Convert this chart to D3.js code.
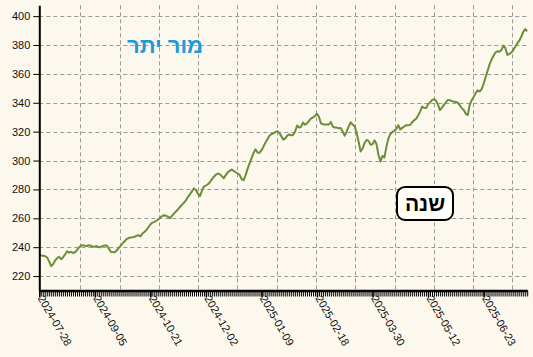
<!DOCTYPE html>
<html>
<head>
<meta charset="utf-8">
<script src="https://cdn.jsdelivr.net/npm/d3@7"></script>
<style>
  html, body { margin: 0; padding: 0; background: #fcf8ed; }
  svg { display: block; font-family: "Liberation Sans", Arial, sans-serif; }
</style>
</head>
<body>
<div id="chart"></div>
<script>
// daily closes, one per trading day
const prices = [
  234.8, 234.3, 234.0, 233.7, 232.8, 230.0, 226.9, 228.3, 230.8, 232.5,
  233.3, 231.7, 233.0, 235.0, 237.2, 236.2, 236.8, 236.0, 236.5, 238.0,
  239.8, 241.0, 241.4, 241.0, 240.8, 241.3, 241.0, 240.2, 240.5, 240.7,
  240.0, 240.2, 240.9, 241.1, 241.2, 239.2, 236.8, 236.6, 236.4, 237.7,
  239.4, 240.9, 242.6, 244.1, 245.6, 246.3, 246.7, 246.9, 247.2, 247.8,
  248.4, 247.4, 249.5, 250.5, 252.0, 253.8, 255.7, 257.0, 257.5, 258.3,
  259.2, 260.5, 261.6, 262.1, 261.7, 261.0, 260.1, 261.8, 263.4, 264.9,
  266.4, 268.0, 269.5, 270.9, 272.6, 274.9, 276.7, 278.8, 280.7, 279.6,
  277.0, 275.3, 279.0, 282.0, 282.7, 283.6, 285.0, 287.0, 288.8, 290.2,
  291.0, 290.6, 289.2, 287.7, 289.9, 291.8, 292.8, 293.8, 292.8, 291.9,
  291.0, 290.1, 287.2, 286.4, 289.7, 294.2, 298.0, 301.5, 305.2, 307.8,
  305.6, 305.4, 307.0, 309.6, 312.4, 314.8, 317.2, 318.2, 318.8, 319.6,
  320.3, 319.2, 316.9, 314.5, 315.4, 317.3, 318.1, 317.4, 317.9, 320.2,
  324.3, 322.8, 323.5, 326.3, 324.8, 325.8, 327.4, 329.2, 329.8, 330.9,
  332.4, 330.3, 325.7, 325.1, 325.0, 325.0, 325.0, 326.6, 323.5, 322.8,
  322.8, 322.3, 322.5, 320.0, 317.2, 320.2, 323.6, 326.4, 325.0, 323.7,
  319.0, 313.0, 306.3, 308.3, 312.2, 314.2, 313.6, 311.0, 311.2, 314.0,
  311.5, 304.0, 299.3, 303.2, 302.2, 309.3, 315.2, 318.4, 319.8, 320.6,
  321.8, 324.5, 321.5, 322.6, 323.6, 324.5, 324.5, 324.7, 326.5, 327.9,
  329.0, 331.2, 333.9, 337.4, 336.5, 336.3, 338.9, 340.3, 341.9, 342.6,
  341.4, 338.8, 334.9, 336.6, 338.5, 340.2, 342.0, 341.8, 341.1, 340.9,
  340.5, 340.1, 338.2, 336.2, 335.0, 332.4, 331.5, 338.4, 341.8, 344.0,
  346.7, 348.6, 347.8, 349.5, 353.0, 357.7, 362.0, 366.4, 369.8, 372.6,
  374.8, 375.7, 375.3, 376.5, 379.6, 377.8, 373.1, 373.9, 374.8, 376.5,
  378.9, 381.1, 383.0, 385.7, 389.1, 391.0, 389.5
];

// labelled dates on the x axis and the trading-day index they sit on
const tickLabels = ["2024-07-28", "2024-09-05", "2024-10-21", "2024-12-02", "2025-01-09",
                    "2025-02-18", "2025-03-30", "2025-05-12", "2025-06-23"];
const tickIndex = [0, 28, 56, 84, 112, 140, 168, 196, 224];
const yTicks = [220, 240, 260, 280, 300, 320, 340, 360, 380, 400];
const title = "מור יתר";
const badge = "שנה";

const W = 533, H = 357;
const margin = { top: 5.3, right: 5.8, bottom: 66.5, left: 39.3 };

const svg = d3.select("#chart").append("svg")
  .attr("width", W)
  .attr("height", H);

svg.append("rect").attr("width", W).attr("height", H).attr("fill", "#fcf8ed");

const x = d3.scaleLinear()
  .domain([0, prices.length - 1])
  .range([margin.left, W - margin.right]);
const y = d3.scaleLinear()
  .domain([210, 407.5])
  .range([H - margin.bottom, margin.top]);

// grid
const grid = svg.append("g")
  .attr("stroke", "#999")
  .attr("stroke-width", 1)
  .attr("stroke-dasharray", "4,3");

grid.selectAll("line.h")
  .data(yTicks)
  .join("line")
  .attr("class", "h")
  .attr("x1", margin.left).attr("x2", W - margin.right)
  .attr("y1", d => Math.round(y(d)) + 0.5).attr("y2", d => Math.round(y(d)) + 0.5);

const vGrid = d3.range(1, 13).map(k => 0.9 + k * 19.8);
grid.selectAll("line.v")
  .data(vGrid)
  .join("line")
  .attr("class", "v")
  .attr("x1", d => Math.round(x(d)) + 0.5).attr("x2", d => Math.round(x(d)) + 0.5)
  .attr("y1", margin.top).attr("y2", H - margin.bottom);

// price line
const line = d3.line()
  .x((d, i) => x(i))
  .y(d => y(d));

svg.append("path")
  .datum(prices)
  .attr("fill", "none")
  .attr("stroke", "#6b8e38")
  .attr("stroke-width", 2)
  .attr("stroke-linejoin", "round")
  .attr("d", line);

// y axis
const yAxis = svg.append("g")
  .attr("transform", `translate(${margin.left},0)`)
  .call(d3.axisLeft(y).tickValues(yTicks).tickSize(6).tickPadding(3).tickSizeOuter(0));
yAxis.select(".domain").attr("stroke-width", 2);
yAxis.selectAll("text").attr("font-size", 11).attr("fill", "#111");

// x axis: one small tick per trading day
const xMinor = svg.append("g")
  .attr("transform", `translate(0,${H - margin.bottom})`)
  .call(d3.axisBottom(x).tickValues(d3.range(prices.length)).tickSize(6).tickFormat("").tickSizeOuter(0));
xMinor.select(".domain").attr("stroke-width", 2.5);
xMinor.selectAll(".tick line").attr("stroke-width", 1);

const xMajor = svg.append("g")
  .attr("transform", `translate(0,${H - margin.bottom})`)
  .call(d3.axisBottom(x).tickValues(tickIndex).tickSize(7)
    .tickFormat((d, i) => tickLabels[i]).tickSizeOuter(0));
xMajor.select(".domain").remove();
xMajor.selectAll(".tick line").attr("stroke-width", 1.5);
xMajor.selectAll("text")
  .attr("font-size", 11)
  .attr("fill", "#111")
  .attr("text-anchor", "start")
  .attr("dy", "0.35em")
  .attr("transform", "translate(0,4) rotate(60)")
  .attr("x", 2)
  .attr("y", 0);

// title
svg.append("text")
  .attr("x", 165).attr("y", 53)
  .attr("text-anchor", "middle")
  .attr("font-size", 22)
  .attr("font-weight", "bold")
  .attr("fill", "#1f9ad6")
  .text(title);

// badge
const bx = 397, by = 187;
svg.append("rect")
  .attr("x", bx).attr("y", by)
  .attr("width", 56).attr("height", 33)
  .attr("rx", 8)
  .attr("fill", "#fffdf6")
  .attr("stroke", "#000")
  .attr("stroke-width", 2);
svg.append("text")
  .attr("x", bx + 28).attr("y", by + 24)
  .attr("text-anchor", "middle")
  .attr("font-size", 21)
  .attr("font-weight", "bold")
  .attr("fill", "#000")
  .text(badge);
</script>
</body>
</html>
